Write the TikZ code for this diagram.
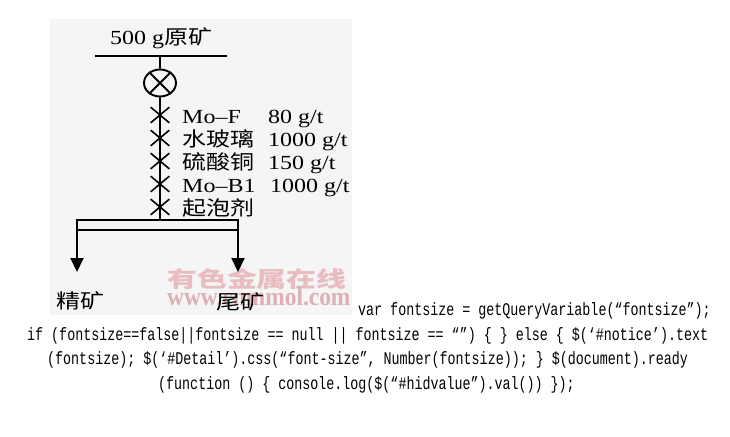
\documentclass[tikz,border=0pt]{standalone}
\usepackage{fontspec}
\usepackage{tikz}
\usetikzlibrary{arrows.meta, calc, shapes.geometric, shapes.misc, positioning}
\newfontfamily\latfont[FakeStretch=1.2]{Liberation Serif}
\newfontfamily\cjkfont[FakeStretch=1.2]{Noto Sans CJK SC}
\newfontfamily\wmcjkfont[FakeStretch=1.36]{Noto Sans CJK SC}
\newfontfamily\wmlatfont[FakeStretch=0.9]{Liberation Serif}
\newfontfamily\codefont[FakeStretch=0.75]{Liberation Mono}
\definecolor{wmpink}{RGB}{233,188,192}
\definecolor{wmpinkurl}{RGB}{222,176,181}
\definecolor{figbg}{RGB}{245,245,245}

\tikzset{
  flow/.style={line width=1.9pt},
  dose/.style={cross out, draw, line width=1.6pt, minimum width=17pt, minimum height=14pt, inner sep=0pt},
  lbl/.style={inner sep=0pt, anchor=base west, font=\latfont\fontsize{20}{24}\selectfont},
  zh/.style={lbl, font=\cjkfont\fontsize{20}{24}\selectfont},
  code/.style={inner sep=0pt, anchor=base west, font=\codefont\fontsize{17.8}{25}\selectfont},
  wm/.style={inner sep=0pt, anchor=base west}
}

\begin{document}
\begin{tikzpicture}[x=1pt, y=-1pt]
                    \fill[white] (0,0) rectangle (730,436);
                    \useasboundingbox (0,0) rectangle (730,436);
                    \fill[figbg] (50,19) rectangle (352,315);

                    \node[wm, text=wmpink, font=\wmcjkfont\bfseries\fontsize{22}{24}\selectfont] (wmname) at (167,287) {有色金属在线};
                    \node[wm, text=wmpinkurl, font=\wmlatfont\bfseries\fontsize{26}{28}\selectfont] (wmurl) at (167,305) {www.cnmmol.com};

                    \node[lbl] (ore) at (110,45) {500 g{\cjkfont 原矿}};
                    \coordinate (feedL) at (95,56);
                    \coordinate (feedR) at (227,56);
                    \coordinate (feed) at (160,56);
                    \node[ellipse, draw, flow, minimum width=32pt, minimum height=27pt, inner sep=0pt] (mix) at (160,83) {};
                    \node[dose] (d1) at (160,115) {};
                    \node[dose] (d2) at (160,138) {};
                    \node[dose] (d3) at (160,161) {};
                    \node[dose] (d4) at (160,184) {};
                    \node[dose] (d5) at (160,207) {};
                    \coordinate (split) at (160,220);
                    \coordinate (splitL) at (77,220);
                    \coordinate (splitR) at (238,230);
                    \coordinate (concend) at (77,272);
                    \coordinate (tailend) at (238,272);

                    \node[lbl] (r1) at (182,123) {Mo–F};
                    \node[lbl] (q1) at (268,123) {80 g/t};
                    \node[zh] (r2) at (182,146) {水玻璃};
                    \node[lbl] (q2) at (268,146) {1000 g/t};
                    \node[zh] (r3) at (182,169) {硫酸铜};
                    \node[lbl] (q3) at (268,169) {150 g/t};
                    \node[lbl] (r4) at (182,192) {Mo–B1};
                    \node[lbl] (q4) at (270,192) {1000 g/t};
                    \node[zh] (r5) at (182,215) {起泡剂};
                    \node[zh] (conc) at (56,308) {精矿};
                    \node[zh] (tail) at (216,309) {尾矿};

                    \draw[flow]
                    (feedL) -- (feedR)
                    (feed) -- (mix)
                    (mix) -- (split)
                    (splitL) rectangle (splitR)
                    (mix.45) -- (mix.225)
                    (mix.135) -- (mix.315);
                    \draw[flow, -{Triangle[length=14pt, width=13pt]}] (splitL) -- (concend);
                    \draw[flow, -{Triangle[length=14pt, width=13pt]}] (splitR |- split) -- (tailend);

                    \node[code] (js1) at (358,315) {var fontsize = getQueryVariable(“fontsize”);};
                    \node[code] (js2) at (27,340) {if (fontsize==false||fontsize == null || fontsize == “”) \{ \} else \{ \$(‘\#notice’).text};
                    \node[code] (js3) at (47,364) {(fontsize); \$(‘\#Detail’).css(“font-size”, Number(fontsize)); \} \$(document).ready};
                    \node[code] (js4) at (158,389) {(function () \{ console.log(\$(“\#hidvalue”).val()) \});};
                \end{tikzpicture}
\end{document}
